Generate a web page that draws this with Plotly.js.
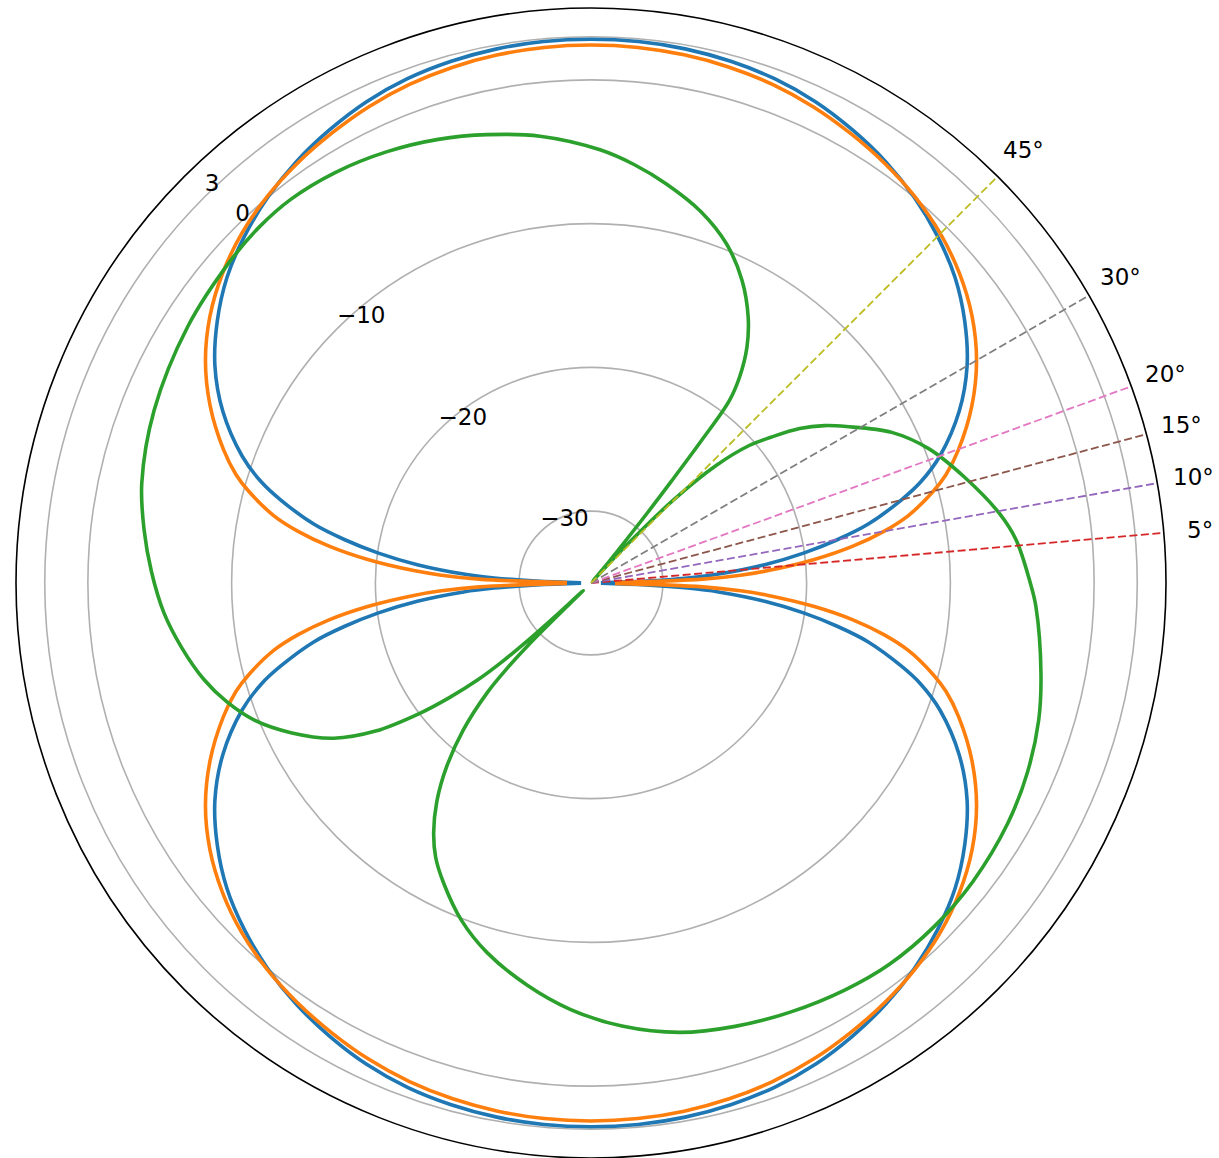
<!DOCTYPE html>
<html>
<head>
<meta charset="utf-8">
<script src="https://cdn.plot.ly/plotly-3.0.1.min.js"></script>
<style>
  html, body { margin: 0; padding: 0; background: #fff; }
  #chart { width: 1219px; height: 1158px; }
</style>
</head>
<body>
<div id="chart"></div>
<script>
// Radiation patterns in dB, polar angle in degrees (0 deg = east, counter-clockwise).
// null entries mark the pattern nulls, where the trace is broken.
const dipoleTheta = [
  0, 1, 2, 3, 4, 6, 8, 10, 12, 15, 17, 20, 25, 30, 35, 40, 45, 50, 55, 60, 65, 70, 75, 80, 85, 90,
  95, 100, 105, 110, 115, 120, 125, 130, 135, 140, 145, 150, 155, 160, 163, 165, 168, 170, 172, 174, 176, 177, 178, 179, 180,
  181, 182, 183, 184, 186, 188, 190, 192, 195, 197, 200, 205, 210, 215, 220, 225, 230, 235, 240, 245, 250, 255, 260, 265, 270,
  275, 280, 285, 290, 295, 300, 305, 310, 315, 320, 325, 330, 335, 340, 343, 345, 348, 350, 352, 354, 356, 357, 358, 359, 360
];

const halfWaveDb = [
  null, -34.31, -31.18, -28.26, -26.11, -22.85, -20.07, -17.57, -15.28, -12.64, -11.04, -9.17, -6.74, -4.79, -3.26, -1.94, -0.90, 0.0, 0.76, 1.39, 1.94, 2.33, 2.57, 2.73, 2.81, 2.83,
  2.81, 2.73, 2.57, 2.33, 1.94, 1.39, 0.76, 0.0, -0.90, -1.94, -3.26, -4.79, -6.74, -9.17, -11.04, -12.64, -15.28, -17.57, -20.07, -22.85, -26.11, -28.26, -31.18, -34.31, null,
  -34.31, -31.18, -28.26, -26.11, -22.85, -20.07, -17.57, -15.28, -12.64, -11.04, -9.17, -6.74, -4.79, -3.26, -1.94, -0.90, 0.0, 0.76, 1.39, 1.94, 2.33, 2.57, 2.73, 2.81, 2.83,
  2.81, 2.73, 2.57, 2.33, 1.94, 1.39, 0.76, 0.0, -0.90, -1.94, -3.26, -4.79, -6.74, -9.17, -11.04, -12.64, -15.28, -17.57, -20.07, -22.85, -26.11, -28.26, -31.18, -34.31, null
];

const shortDipoleDb = [
  null, -33.33, -27.22, -24.58, -22.64, -19.38, -16.60, -14.31, -12.43, -10.35, -9.17, -7.78, -5.76, -4.03, -2.64, -1.53, -0.63, 0.07, 0.63, 1.11, 1.56, 1.91, 2.15, 2.31, 2.40, 2.43,
  2.40, 2.31, 2.15, 1.91, 1.56, 1.11, 0.63, 0.07, -0.63, -1.53, -2.64, -4.03, -5.76, -7.78, -9.17, -10.35, -12.43, -14.31, -16.60, -19.38, -22.64, -24.58, -27.22, -33.33, null,
  -33.33, -27.22, -24.58, -22.64, -19.38, -16.60, -14.31, -12.43, -10.35, -9.17, -7.78, -5.76, -4.03, -2.64, -1.53, -0.63, 0.07, 0.63, 1.11, 1.56, 1.91, 2.15, 2.31, 2.40, 2.43,
  2.40, 2.31, 2.15, 1.91, 1.56, 1.11, 0.63, 0.07, -0.63, -1.53, -2.64, -4.03, -5.76, -7.78, -9.17, -10.35, -12.43, -14.31, -16.60, -19.38, -22.64, -24.58, -27.22, -33.33, null
];

const tiltedTheta = [
  0, 5.8, 9.7, 15.8, 21.7, 26.6, 31.5, 34, 36.5, 39, 41, 43.2, 45.2, 47, 47.8,
  48.5, 49.6, 50.4, 51.2, 51.7, 52.2, 52.8, 54.2, 56.5, 59.4, 63.5, 68.2, 73.5, 79.3, 84, 88.8,
  96.5, 103, 109, 115.3, 122, 128, 133, 138.2, 147.6, 158.4, 167.5, 173.2, 178.5,
  184, 189, 194, 198, 202.1, 206.5, 211.1, 214.5, 217.3, 219, 220.5, 221.5, 222.3, 222.8, 223.3, 224,
  224.3, 224.7, 225.5, 226.6, 229, 231.8, 234.8, 237.8, 240.5, 243.8, 249, 254.3, 261, 267.2, 274,
  281.2, 288, 295, 302, 308, 315, 322, 330, 336.6, 343, 348.7, 357, 360
];

const tiltedDb = [
  -4.44, -5.28, -6.19, -7.99, -9.72, -11.60, -14.17, -15.42, -16.94, -18.89, -20.42, -23.06, -26.88, -31.88, -34.44,
  -34.80, -33.26, -32.03, -28.75, -25.97, -22.50, -19.10, -17.33, -15.35, -13.52, -11.46, -9.60, -8.06, -6.75, -5.76, -4.86,
  -3.72, -2.99, -2.36, -1.81, -1.35, -1.11, -1.15, -1.36, -1.76, -2.32, -2.99, -3.69, -4.41,
  -5.22, -6.18, -7.25, -8.33, -9.69, -11.67, -14.10, -16.81, -20.07, -22.36, -24.58, -26.67, -29.10, -31.18, -33.26, -34.24,
  -33.26, -29.04, -26.67, -24.46, -21.46, -18.78, -16.39, -14.46, -13.06, -11.76, -9.86, -8.29, -6.67, -5.31, -4.10,
  -3.13, -2.57, -2.08, -1.63, -1.32, -1.22, -1.28, -1.53, -1.91, -2.43, -3.08, -4.01, -4.44
];

// Reference directions marked with dashed spokes
const spokeAngles = [5, 10, 15, 20, 30, 45];
const spokeLabels = ['5°', '10°', '15°', '20°', '30°', '45°'];

// Radial axis
const radialRange = [-35, 5];
const radialTicks = [-30, -20, -10, 0, 3];
const radialTickText = ['\u221230', '\u221220', '\u221210', '0', '3'];
const radialLabelAngle = 135;

const patternColors = ['#1f77b4', '#ff7f0e', '#2ca02c'];
const spokeColors = ['#d62728', '#9467bd', '#8c564b', '#e377c2', '#7f7f7f', '#bcbd22'];
const spokeLabelRadius = 7.55;   // dB value just outside the frame where the spoke names sit

const labelFont = { family: 'DejaVu Sans', size: 23, color: '#000' };

const traces = [];
const patterns = [
  { theta: dipoleTheta, r: halfWaveDb },
  { theta: dipoleTheta, r: shortDipoleDb },
  { theta: tiltedTheta, r: tiltedDb }
];
patterns.forEach((p, i) => {
  traces.push({
    type: 'scatterpolar',
    mode: 'lines',
    theta: p.theta,
    r: p.r,
    line: { color: patternColors[i], width: 3.6, shape: 'spline', smoothing: 1 },
    connectgaps: false,
    hoverinfo: 'skip'
  });
});

spokeAngles.forEach((a, i) => {
  traces.push({
    type: 'scatterpolar',
    mode: 'lines',
    theta: [a, a],
    r: radialRange,
    line: { color: spokeColors[i], width: 1.8, dash: '8px,3.5px' },
    hoverinfo: 'skip'
  });
});

// Radial tick labels, written beside each ring along the 135 deg direction
traces.push({
  type: 'scatterpolar',
  mode: 'text',
  r: radialTicks,
  theta: radialTicks.map(() => radialLabelAngle),
  text: radialTickText,
  textposition: 'top right',
  textfont: labelFont,
  cliponaxis: false,
  hoverinfo: 'skip'
});

// Spoke names: placed on the polar scale, outside the frame, in paper units
// (the polar domain fills the square plot area, centre at 0.5/0.5, radius 0.5).
const frac = (spokeLabelRadius - radialRange[0]) / (radialRange[1] - radialRange[0]);
const annotations = spokeAngles.map((a, i) => ({
  xref: 'paper', yref: 'paper',
  x: 0.5 + 0.5 * frac * Math.cos(a * Math.PI / 180),
  y: 0.5 + 0.5 * frac * Math.sin(a * Math.PI / 180),
  text: spokeLabels[i],
  showarrow: false,
  xanchor: 'center', yanchor: 'middle',
  font: labelFont
}));

const layout = {
  width: 1219,
  height: 1158,
  margin: { l: 16, r: 53, t: 8, b: 0 },
  showlegend: false,
  paper_bgcolor: '#fff',
  font: labelFont,
  annotations: annotations,
  polar: {
    domain: { x: [0, 1], y: [0, 1] },
    bgcolor: '#fff',
    radialaxis: {
      range: radialRange,
      tickmode: 'array',
      tickvals: radialTicks,
      showticklabels: false,
      angle: radialLabelAngle,
      showline: false,
      ticks: '',
      gridcolor: '#b0b0b0',
      gridwidth: 1.6
    },
    angularaxis: {
      rotation: 0,
      direction: 'counterclockwise',
      showgrid: false,
      showticklabels: false,
      ticks: '',
      showline: true,
      linecolor: '#000',
      linewidth: 1.6
    }
  }
};

Plotly.newPlot('chart', traces, layout, { staticPlot: true, displayModeBar: false });
</script>
</body>
</html>
